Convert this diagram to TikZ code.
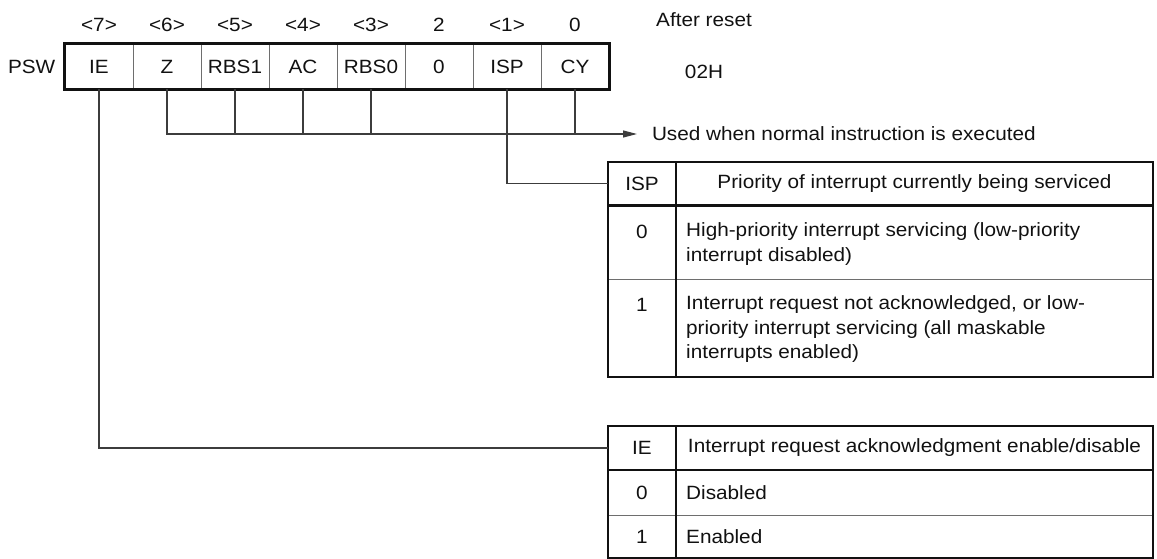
\documentclass[tikz,border=0pt]{standalone}
\usepackage{fontspec}
\setmainfont[FakeStretch=1.08]{Liberation Sans}
\usetikzlibrary{arrows.meta,positioning,calc}
\definecolor{ink}{HTML}{111111}
\definecolor{rule}{HTML}{6E6E6E}
\definecolor{wire}{HTML}{3C3C3C}

\begin{document}
\begin{tikzpicture}[x=1pt,y=-1pt,>={Triangle[length=14pt,width=7pt]},
  every node/.style={font=\fontsize{19.2}{24.3}\selectfont,inner sep=0pt,text=ink},
  bitcell/.style={draw=rule,line width=0.9pt,minimum width=68pt,minimum height=45pt},
  frame/.style={draw=ink,line width=2.4pt},
  thinrule/.style={draw=rule,line width=1pt},
  conn/.style={draw=wire,line width=1.2pt}]
\useasboundingbox (0,0) rectangle (1157,559);
% Register: bit numbers above, field names inside.
\foreach \name/\num [count=\i from 0] in {IE/<7>,Z/<6>,RBS1/<5>,AC/<4>,RBS0/<3>,0/2,ISP/<1>,CY/0} {
  \pgfmathtruncatemacro\b{7-\i}
  \node[bitcell] (r\b) at ({99+68*\i},66.5) {\name};
  \node (n\b) at ({99+68*\i},25) {\num};
}
\draw[frame] (r7.north west) rectangle (r0.south east);
\node (psw) at (31.7,67) {PSW};
\node (rst) at (704,20) {After reset};
\node (val) at (704,72) {02H};
% Bits used by normal instructions.
\node[anchor=west,outer sep=15pt] (used) at (637,134) {Used when normal instruction is executed};
\draw[conn,->] (r6.south) |- (used.west);
\foreach \b in {5,4,3,0}
  \draw[conn] (r\b.south) -- (r\b.south |- used.west);
% ISP table
\draw[thinrule] (608,279.5) -- (1153,279.5);
\draw[frame] (608,162) rectangle (1153,377);
\draw[frame] (608,205.5) -- (1153,205.5);
\draw[frame] (676,162) -- (676,377);
\coordinate (ispin) at (608,183.75);
\node (isphd) at (642,183.75) {ISP};
\node (isptitle) at (914.5,183.75) {Priority of interrupt currently being serviced};
\node (isp0) at (642,231.7) {0};
\node[anchor=west,align=left] (isp0txt) at (686,243.9) {High-priority interrupt servicing (low-priority\\interrupt disabled)};
\node (isp1) at (642,305) {1};
\node[anchor=west,align=left] (isp1txt) at (686,329.3) {Interrupt request not acknowledged, or low-\\priority interrupt servicing (all maskable\\interrupts enabled)};
\draw[conn] (r1.south) |- (ispin);
% IE table
\draw[thinrule] (608,515.5) -- (1153,515.5);
\draw[frame] (608,426) rectangle (1153,558);
\draw[frame] (608,470) -- (1153,470);
\draw[frame] (676,426) -- (676,558);
\coordinate (iein) at (608,448);
\node (iehd) at (642,448) {IE};
\node (ietitle) at (914.5,448) {Interrupt request acknowledgment enable/disable};
\node (ie0) at (642,493) {0};
\node[anchor=west] (ie0txt) at (686,493) {Disabled};
\node (ie1) at (642,537) {1};
\node[anchor=west] (ie1txt) at (686,537) {Enabled};
\draw[conn] (r7.south) |- (iein);
\end{tikzpicture}
\end{document}
